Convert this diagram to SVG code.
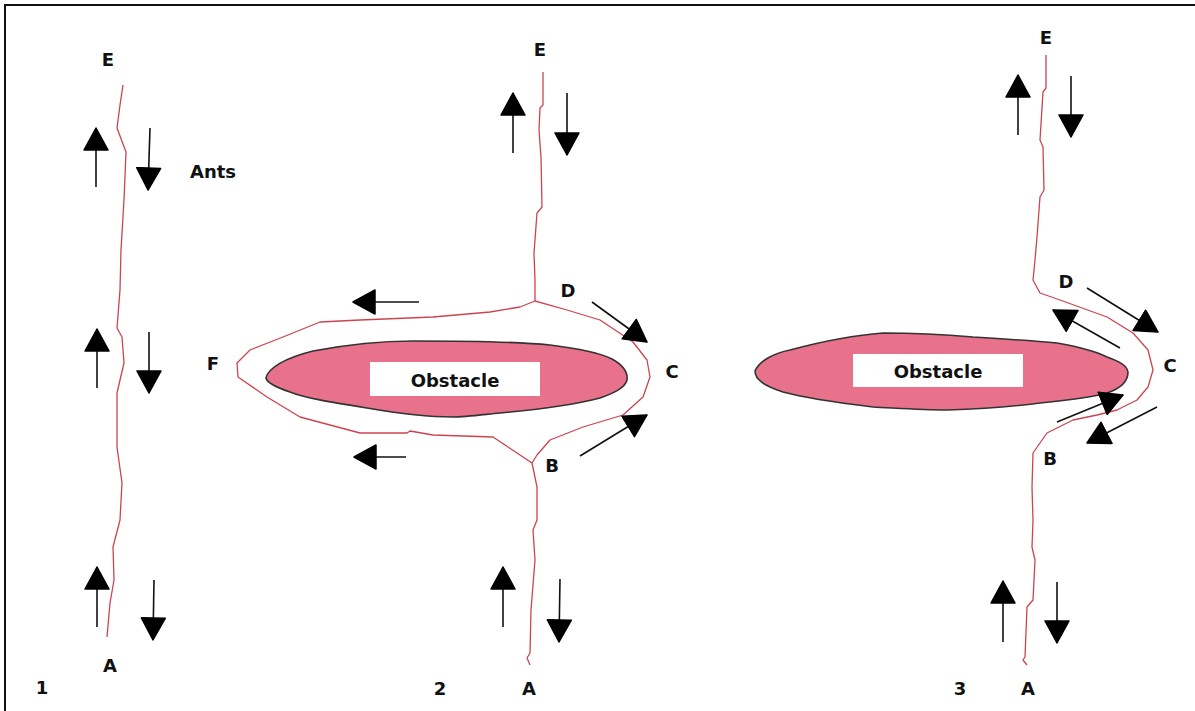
<svg xmlns="http://www.w3.org/2000/svg" width="1195" height="711" viewBox="0 0 1195 711">
<style>
.t{font-family:"DejaVu Sans","Liberation Sans",sans-serif;font-weight:bold;font-size:18px;fill:#111;text-anchor:middle}
.trail{fill:none;stroke:#cc4450;stroke-width:1.3;stroke-linejoin:round}
.obs{fill:#e8718b;stroke:#333;stroke-width:1.6}
.lbl{fill:#fff}
.arr{stroke:#111;stroke-width:1.6;fill:none;marker-end:url(#ah)}
</style>
<defs>
<marker id="ah" viewBox="0 0 24 26" refX="23" refY="13" markerWidth="24" markerHeight="26" markerUnits="userSpaceOnUse" orient="auto">
<path d="M1,1 L23,13 L1,25 Z" fill="#000" stroke="#000" stroke-width="1.5" stroke-linejoin="round"/>
</marker>
</defs>
<rect width="1195" height="711" fill="#fff"/>
<path d="M5,711 L5,5 L1195,5" fill="none" stroke="#111" stroke-width="2"/>

<g id="panel1">
<polyline class="trail" points="123,85 120,105 117,128 126,152 124,200 121,250 120,290 117,328 122,337 124,363 117,393 117,447 122,483 120,520 113,547 114,580 110,603 107,637"/>
<text class="t" x="108" y="66">E</text>
<text class="t" x="213" y="178">Ants</text>
<text class="t" x="110" y="672">A</text>
<text class="t" x="42" y="694">1</text>
</g>

<g id="panel2">
<polyline class="trail" points="543,72 543,105 540,108 539,130 541,157 542,207 537,213 534,253 535,280 535,301"/>
<polyline class="trail" points="535,301 520,307 490,312 433,317 360,320 320,322 283,337 250,350 237,363 238,377 267,397 300,417 360,433 407,433 410,431 433,435 493,437 532,463"/>
<polyline class="trail" points="532,463 537,455 550,440 583,427 623,415 643,397 650,377 647,360 633,342 600,320 567,310 535,301"/>
<polyline class="trail" points="532,463 537,487 537,520 533,530 535,560 531,610 530,653 527,658 530,665"/>
<g id="obstacle2">
<path class="obs" d="M266,378 C268,368 285,358 313,351 C350,344 385,341 413,341 C470,341 520,342 550,345 C575,348 600,353 612,359 C623,365 628,372 627,380 C625,388 614,393 600,398 C570,406 533,410 500,413 C480,415 465,417 453,417 C420,417 390,412 367,408 C330,402 305,398 290,392 C275,387 267,383 266,378 Z"/>
<rect class="lbl" x="370" y="362" width="170" height="34"/>
<text class="t" x="455" y="387">Obstacle</text>
</g>
<text class="t" x="540" y="56">E</text>
<text class="t" x="568" y="297">D</text>
<text class="t" x="213" y="370">F</text>
<text class="t" x="672" y="378">C</text>
<text class="t" x="552" y="472">B</text>
<text class="t" x="440" y="695">2</text>
<text class="t" x="529" y="695">A</text>
</g>

<g id="panel3">
<polyline class="trail" points="1046,55 1046,88 1043,92 1040,140 1043,147 1044,190 1040,197 1037,237 1035,260 1033,280 1040,293 1060,300 1107,317 1133,333 1148,350 1153,370 1148,387 1137,400 1117,410 1097,415 1073,420 1047,433 1033,453 1032,487 1033,520 1032,547 1035,560 1033,600 1027,607 1025,657 1023,660 1027,665"/>
<g id="obstacle3">
<path class="obs" d="M755,371 C760,360 775,353 790,350 C820,342 855,335 883,333 C920,333 950,335 973,337 C1005,339 1035,341 1057,343 C1080,347 1097,352 1107,357 C1118,361 1127,365 1128,372 C1128,380 1122,388 1107,393 C1090,398 1060,401 1040,403 C1010,407 975,409 947,410 C920,410 895,408 873,407 C840,403 805,398 783,392 C765,386 755,380 755,371 Z"/>
<rect class="lbl" x="853" y="354" width="170" height="33"/>
<text class="t" x="938" y="378">Obstacle</text>
</g>
<text class="t" x="1046" y="44">E</text>
<text class="t" x="1066" y="288">D</text>
<text class="t" x="1170" y="372">C</text>
<text class="t" x="1050" y="465">B</text>
<text class="t" x="960" y="695">3</text>
<text class="t" x="1028" y="695">A</text>
</g>

<g id="connectors">
<line class="arr" x1="96" y1="187" x2="96" y2="128"/>
<line class="arr" x1="150" y1="128" x2="148" y2="190"/>
<line class="arr" x1="97" y1="388" x2="97" y2="329"/>
<line class="arr" x1="149" y1="332" x2="149" y2="393"/>
<line class="arr" x1="97" y1="627" x2="97" y2="567"/>
<line class="arr" x1="154" y1="580" x2="153" y2="640"/>

<line class="arr" x1="513" y1="153" x2="513" y2="93"/>
<line class="arr" x1="567" y1="93" x2="567" y2="155"/>
<line class="arr" x1="419" y1="302" x2="353" y2="302"/>
<line class="arr" x1="406" y1="457" x2="354" y2="457"/>
<line class="arr" x1="592" y1="302" x2="647" y2="342"/>
<line class="arr" x1="580" y1="456" x2="647" y2="415"/>
<line class="arr" x1="503" y1="627" x2="503" y2="567"/>
<line class="arr" x1="560" y1="579" x2="559" y2="642"/>

<line class="arr" x1="1018" y1="135" x2="1018" y2="75"/>
<line class="arr" x1="1071" y1="76" x2="1071" y2="137"/>
<line class="arr" x1="1087" y1="288" x2="1158" y2="332"/>
<line class="arr" x1="1120" y1="348" x2="1053" y2="310"/>
<line class="arr" x1="1057" y1="422" x2="1123" y2="395"/>
<line class="arr" x1="1157" y1="407" x2="1087" y2="443"/>
<line class="arr" x1="1003" y1="642" x2="1003" y2="581"/>
<line class="arr" x1="1057" y1="582" x2="1057" y2="643"/>
</g>
</svg>
